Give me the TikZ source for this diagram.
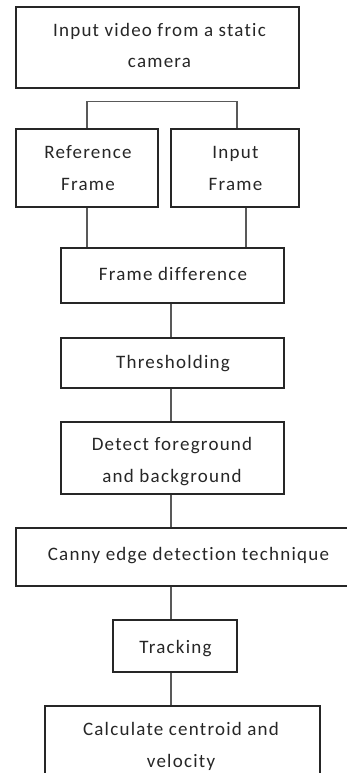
\documentclass[tikz,border=0pt]{standalone}
\usepackage{fontspec}
\setmainfont[LetterSpace=6.5,Ligatures={NoCommon}]{Carlito}
\begin{document}
\begin{tikzpicture}[x=1pt,y=-1pt,
  box/.style={draw=black!85, line width=1.2pt, inner sep=0pt, rectangle},
  lbl/.style={anchor=base, inner sep=0pt, font=\fontsize{19}{32}\selectfont, text=black!85},
  link/.style={draw=black!65, line width=1.2pt}]
\useasboundingbox (0,0) rectangle (347,773);
\clip (0,0) rectangle (347,773);
\coordinate (axis) at (171,0);
% boxes
\node[box, minimum width=283pt, minimum height=81pt] (b1) at (157.5,47.5) {};
\node[box, minimum width=142pt, minimum height=78pt] (ref) at (87,168) {};
\node[box, minimum width=128pt, minimum height=78pt] (inp) at (235,168) {};
\node[box, minimum width=223pt, minimum height=55pt] (fd) at (172.5,275.5) {};
\node[box, minimum width=223pt, minimum height=50pt] (thr) at (172.5,363) {};
\node[box, minimum width=223pt, minimum height=72pt] (det) at (172.5,458) {};
\node[box, minimum width=345pt, minimum height=58pt] (can) at (188.5,557) {};
\node[box, minimum width=124pt, minimum height=52pt] (trk) at (175,646) {};
\node[box, minimum width=275pt, minimum height=100pt] (cal) at (182.5,756) {};
% texts
\node[lbl] (t1a) at (159.5,37) {Input video from a static};
\node[lbl] (t1b) at (159.5,68) {camera};
\node[lbl] (t2a) at (88,158) {Reference};
\node[lbl] (t2b) at (88,190) {Frame};
\node[lbl] (t3a) at (235.5,158) {Input};
\node[lbl] (t3b) at (235.5,190) {Frame};
\node[lbl] (t4) at (173,280) {Frame difference};
\node[lbl] (t5) at (173,368) {Thresholding};
\node[lbl] (t6a) at (172,450) {Detect foreground};
\node[lbl] (t6b) at (172,482) {and background};
\node[lbl] (t7) at (188.5,560) {Canny edge detection technique};
\node[lbl] (t8) at (175.5,653) {Tracking};
\node[lbl] (t9a) at (181,735) {Calculate centroid and};
\node[lbl] (t9b) at (181,767) {velocity};
% connectors
\draw[link] (ref.north) -- ++(0,-27) -| ([xshift=2pt]inp.north);
\draw[link] (ref.south) -- (ref.south |- fd.north);
\draw[link] ([xshift=11pt]inp.south) -- ([xshift=11pt]inp.south |- fd.north);
\draw[link] (fd.south -| axis) -- (thr.north -| axis);
\draw[link] (thr.south -| axis) -- (det.north -| axis);
\draw[link] (det.south -| axis) -- (can.north -| axis);
\draw[link] (can.south -| axis) -- (trk.north -| axis);
\draw[link] (trk.south -| axis) -- (cal.north -| axis);
\end{tikzpicture}
\end{document}
